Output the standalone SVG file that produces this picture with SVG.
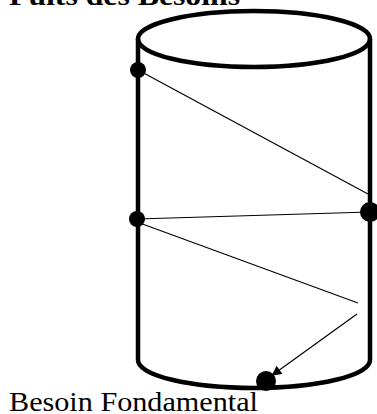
<svg xmlns="http://www.w3.org/2000/svg" width="377" height="414" viewBox="0 0 377 414">
<defs>
<style>
.cyl{fill:none;stroke:#000;stroke-width:4.5}
.ln{stroke:#000;stroke-width:1.2;fill:none}
.dot{fill:#000}
.t{font-family:"Liberation Serif","DejaVu Serif",serif;fill:#000}
</style>
<marker id="ah" viewBox="0 0 10 10" refX="2" refY="5" markerWidth="10" markerHeight="10" markerUnits="userSpaceOnUse" orient="auto">
<path d="M0,0 L10,5 L0,10 z" fill="#000"/>
</marker>
</defs>
<g id="title"><text class="t" x="9" y="5" font-size="28" font-weight="bold" textLength="231" lengthAdjust="spacingAndGlyphs">Puits des Besoins</text></g>
<g id="cylinder">
<ellipse class="cyl" cx="254" cy="39" rx="116" ry="28"/>
<path class="cyl" d="M138,39 L138,360 A116,28 0 0 0 370,360 L370,39"/>
</g>
<g id="connectors">
<line class="ln" x1="138" y1="70" x2="368" y2="194"/>
<line class="ln" x1="137" y1="219" x2="370" y2="212"/>
<line class="ln" x1="137" y1="222" x2="358" y2="303"/>
<line class="ln" x1="357" y1="314" x2="278" y2="371" marker-end="url(#ah)"/>
</g>
<g id="n1"><circle class="dot" cx="138" cy="70" r="8"/></g>
<g id="n2"><circle class="dot" cx="137" cy="219" r="8"/></g>
<g id="n3"><circle class="dot" cx="370" cy="212" r="10"/></g>
<g id="n4"><circle class="dot" cx="266" cy="381" r="10"/></g>
<g id="label"><text class="t" x="9" y="411" font-size="27" textLength="249" lengthAdjust="spacingAndGlyphs">Besoin Fondamental</text></g>
</svg>
